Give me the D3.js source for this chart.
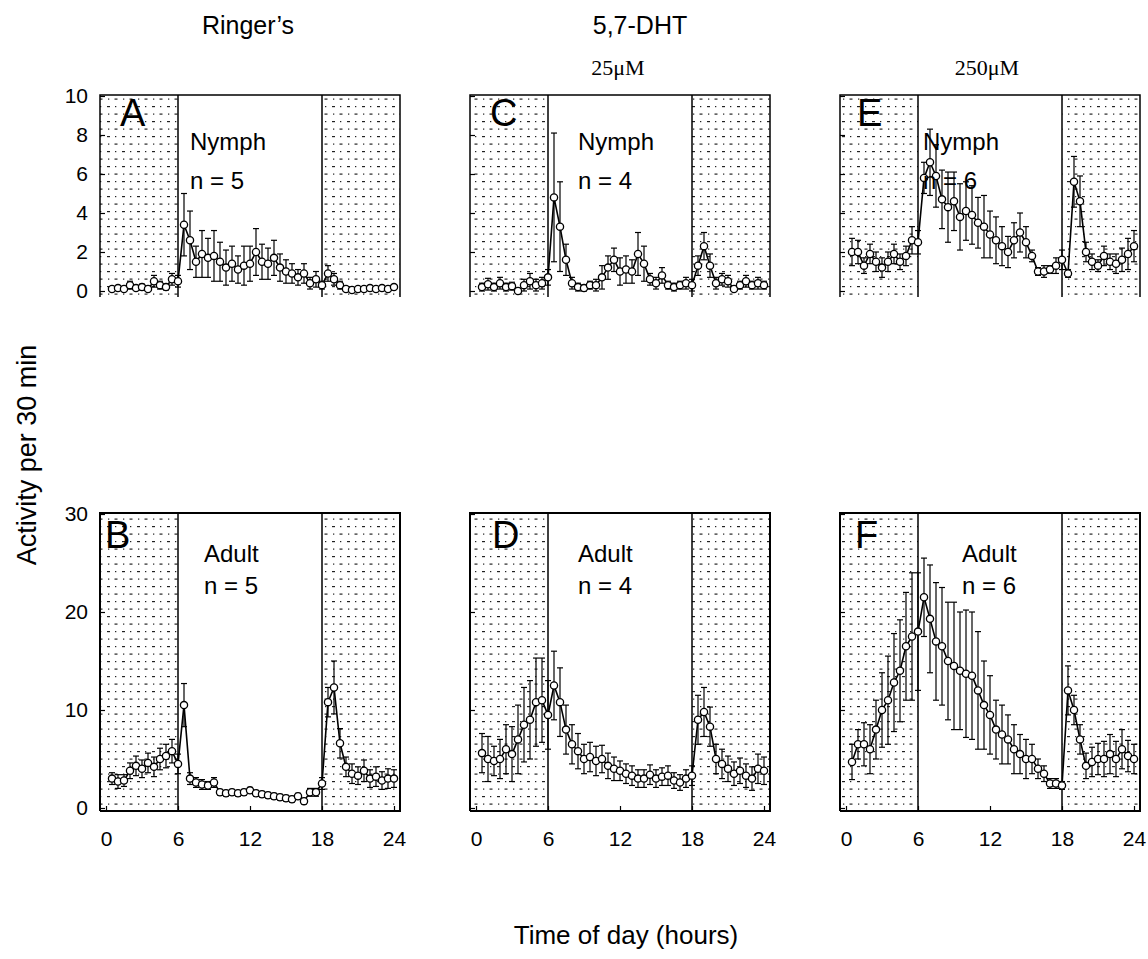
<!DOCTYPE html>
<meta charset="utf-8">
<style>

body {
  margin: 0;
  background: #fff;
}
text {
  font-family: "Liberation Sans", Arial, sans-serif;
  fill: #000;
}
.serif {
  font-family: "Liberation Serif", "Times New Roman", serif;
}
.frame {
  fill: none;
  stroke: #000;
  stroke-width: 1.5px;
}
.mean {
  fill: none;
  stroke: #000;
  stroke-width: 1.6px;
}
.err {
  stroke: #000;
  stroke-width: 1.2px;
}
.pt {
  fill: #fff;
  stroke: #000;
  stroke-width: 1.3px;
}
.axis path {
  display: none;
}
.axis line {
  stroke: #000;
  stroke-width: 1.2px;
}

</style>
<body>
<script src="https://cdn.jsdelivr.net/npm/d3@7"></script>
<script>

// half-hour bins, 0.5 .. 24 h
var hours = d3.range(1, 49).map(function(i) { return i / 2; });

var nymphRinger = [0.1, 0.15, 0.1, 0.3, 0.15, 0.2, 0.1, 0.5, 0.3, 0.2, 0.6, 0.5,
  3.4, 2.6, 1.5, 1.9, 1.7, 1.8, 1.5, 1.2, 1.4, 1.1, 1.3, 1.4,
  2.0, 1.5, 1.4, 1.7, 1.2, 1.0, 0.9, 0.7, 0.9, 0.4, 0.6, 0.3,
  0.9, 0.6, 0.3, 0.1, 0.05, 0.1, 0.1, 0.15, 0.1, 0.15, 0.1, 0.2];
var nymphRingerErr = [0.1, 0.1, 0.1, 0.2, 0.1, 0.15, 0.1, 0.3, 0.2, 0.15, 0.3, 0.3,
  1.6, 1.5, 0.8, 1.2, 1.0, 1.3, 1.0, 0.9, 0.9, 0.7, 1.0, 0.9,
  1.2, 0.9, 0.8, 0.9, 0.7, 0.6, 0.5, 0.4, 0.5, 0.3, 0.4, 0.2,
  0.4, 0.3, 0.2, 0.1, 0.1, 0.1, 0.1, 0.1, 0.1, 0.1, 0.1, 0.1];

var adultRinger = [3.0, 2.7, 2.8, 3.8, 4.3, 4.0, 4.6, 4.2, 5.0, 5.3, 5.8, 4.5,
  10.5, 3.0, 2.6, 2.4, 2.3, 2.6, 1.6, 1.5, 1.6, 1.5, 1.6, 1.8,
  1.5, 1.4, 1.3, 1.2, 1.1, 1.0, 0.9, 1.2, 0.7, 1.6, 1.6, 2.5,
  10.8, 12.3, 6.6, 4.2, 3.5, 3.3, 3.8, 3.0, 3.2, 2.8, 3.0, 3.0];
var adultRingerErr = [0.6, 0.7, 0.6, 0.8, 1.0, 0.9, 1.0, 1.0, 1.1, 1.2, 1.2, 1.0,
  2.2, 0.6, 0.5, 0.5, 0.4, 0.5, 0.3, 0.3, 0.3, 0.3, 0.3, 0.3,
  0.3, 0.3, 0.3, 0.3, 0.3, 0.3, 0.3, 0.3, 0.3, 0.4, 0.4, 0.6,
  1.5, 2.7, 1.5, 1.0, 1.0, 0.9, 1.1, 0.9, 1.0, 0.9, 1.0, 0.9];

var nymph25 = [0.2, 0.35, 0.2, 0.4, 0.2, 0.25, 0.0, 0.3, 0.5, 0.3, 0.4, 0.7,
  4.8, 3.3, 1.6, 0.4, 0.2, 0.15, 0.3, 0.3, 0.7, 1.2, 1.6, 1.0,
  1.1, 1.0, 1.9, 1.4, 0.6, 0.4, 0.8, 0.3, 0.2, 0.3, 0.4, 0.3,
  1.3, 2.3, 1.3, 0.4, 0.6, 0.5, 0.1, 0.3, 0.5, 0.3, 0.4, 0.3];
var nymph25Err = [0.2, 0.3, 0.2, 0.3, 0.2, 0.2, 0.1, 0.3, 0.4, 0.3, 0.3, 0.4,
  3.3, 2.3, 0.8, 0.3, 0.2, 0.15, 0.2, 0.3, 0.6, 0.6, 0.6, 0.7,
  0.7, 0.6, 1.1, 0.9, 0.3, 0.3, 0.4, 0.2, 0.2, 0.2, 0.3, 0.3,
  0.5, 0.7, 0.6, 0.3, 0.3, 0.3, 0.1, 0.2, 0.3, 0.2, 0.3, 0.2];

var adult25 = [5.6, 5.0, 4.8, 5.0, 6.0, 5.5, 7.0, 8.5, 9.0, 10.8, 11.0, 9.5,
  12.5, 10.8, 8.0, 6.5, 5.8, 5.0, 5.2, 4.8, 5.0, 4.3, 4.0, 3.8,
  3.5, 3.3, 3.0, 3.0, 3.4, 3.0, 3.2, 3.3, 2.8, 2.6, 3.0, 3.3,
  9.0, 9.8, 8.3, 5.0, 4.5, 4.0, 3.5, 3.8, 3.3, 3.0, 4.0, 3.8];
var adult25Err = [2.0, 2.3, 1.5, 2.0, 2.5, 2.8, 3.5, 3.8, 4.0, 4.5, 4.3, 3.5,
  3.5, 3.5, 2.5, 2.0, 1.8, 1.5, 1.5, 1.5, 1.4, 1.3, 1.2, 1.0,
  1.0, 1.0, 0.9, 0.9, 1.0, 0.9, 0.9, 1.0, 0.8, 0.8, 0.9, 1.0,
  2.5, 2.5, 2.0, 1.5, 1.5, 1.3, 1.2, 1.3, 1.2, 1.2, 1.5, 1.4];

var nymph250 = [2.0, 2.0, 1.3, 1.9, 1.5, 1.2, 1.5, 1.9, 1.5, 1.8, 2.6, 2.5,
  5.8, 6.6, 5.9, 4.7, 4.3, 4.6, 3.8, 4.1, 3.9, 3.5, 3.3, 2.9,
  2.6, 2.3, 2.0, 2.6, 3.0, 2.5, 1.8, 1.0, 1.0, 1.1, 1.3, 1.6,
  0.9, 5.6, 4.6, 2.0, 1.5, 1.3, 1.8, 1.5, 1.4, 1.6, 1.9, 2.3];
var nymph250Err = [0.7, 0.6, 0.4, 0.5, 0.5, 0.5, 0.5, 0.5, 0.4, 0.5, 0.7, 0.6,
  0.8, 1.7, 1.6, 1.5, 1.8, 1.5, 1.7, 1.5, 1.5, 1.3, 1.6, 1.2,
  1.2, 1.0, 0.8, 0.9, 1.0, 0.8, 0.3, 0.2, 0.3, 0.2, 0.4, 0.5,
  0.2, 1.3, 1.3, 0.5, 0.4, 0.3, 0.5, 0.4, 0.5, 0.6, 0.8, 0.8];

var adult250 = [4.7, 6.5, 6.5, 6.0, 8.0, 10.0, 11.0, 12.8, 14.0, 16.5, 17.5, 18.0,
  21.5, 19.3, 17.0, 16.5, 15.0, 14.5, 14.0, 13.7, 13.5, 12.0, 10.5, 9.5,
  8.0, 7.5, 7.0, 6.0, 5.5, 5.0, 5.0, 4.0, 3.5, 2.5, 2.5, 2.3,
  12.0, 10.0, 7.0, 4.3, 4.7, 5.0, 5.0, 5.5, 5.0, 6.0, 5.3, 5.0];
var adult250Err = [1.8, 1.5, 2.2, 2.5, 3.0, 3.8, 4.5, 5.0, 5.2, 5.5, 6.5, 6.0,
  4.0, 5.5, 6.0, 6.0, 6.0, 6.5, 6.0, 6.5, 6.5, 6.0, 4.5, 4.0,
  3.0, 3.0, 2.5, 2.5, 2.0, 2.0, 1.5, 1.0, 0.8, 0.5, 0.5, 0.4,
  2.5, 1.5, 1.5, 1.3, 1.5, 1.6, 1.8, 2.0, 1.8, 2.0, 1.6, 1.5];

var xTicks = [0, 6, 12, 18, 24];
var nymphTicks = [0, 2, 4, 6, 8, 10];
var adultTicks = [0, 10, 20, 30];

var panels = [
  {letter: "A", stage: "Nymph", n: 5, col: 0, row: 0, mean: nymphRinger, err: nymphRingerErr},
  {letter: "B", stage: "Adult", n: 5, col: 0, row: 1, mean: adultRinger, err: adultRingerErr},
  {letter: "C", stage: "Nymph", n: 4, col: 1, row: 0, mean: nymph25, err: nymph25Err},
  {letter: "D", stage: "Adult", n: 4, col: 1, row: 1, mean: adult25, err: adult25Err},
  {letter: "E", stage: "Nymph", n: 6, col: 2, row: 0, mean: nymph250, err: nymph250Err},
  {letter: "F", stage: "Adult", n: 6, col: 2, row: 1, mean: adult250, err: adult250Err}
];

var width = 1148,
    height = 959;

var colLeft = [100, 470, 840],
    panelW = 300,
    rowTop = [95, 513],
    rowBottom = [297, 811];

// label offsets inside each panel, [top row, bottom row] per column
var letterX = [[20, 5], [20, 22], [17, 15]],
    stageX = [[90, 104], [108, 108], [83, 122]];

var svg = d3.select("body").append("svg")
    .attr("width", width)
    .attr("height", height);

var defs = svg.append("defs");
var pat = defs.append("pattern")
    .attr("id", "stipple")
    .attr("patternUnits", "userSpaceOnUse")
    .attr("width", 15)
    .attr("height", 15);
pat.append("rect").attr("x", 2).attr("y", 1).attr("width", 3).attr("height", 1.2).attr("fill", "#222");
pat.append("rect").attr("x", 10).attr("y", 1).attr("width", 1.3).attr("height", 1.2).attr("fill", "#222");
pat.append("rect").attr("x", 3).attr("y", 8.5).attr("width", 1.3).attr("height", 1.2).attr("fill", "#222");
pat.append("rect").attr("x", 9.5).attr("y", 8.5).attr("width", 3).attr("height", 1.2).attr("fill", "#222");

var line = d3.line();

panels.forEach(function(p) {
  var left = colLeft[p.col],
      top = rowTop[p.row],
      bottom = rowBottom[p.row];

  var x = d3.scaleLinear().domain([-0.5, 24.5]).range([left, left + panelW]);
  var y = p.row === 0
      ? d3.scaleLinear().domain([0, 10]).range([bottom - 6, top + 1])
      : d3.scaleLinear().domain([0, 30]).range([bottom - 3, top + 1]);

  var g = svg.append("g");

  // dark phases
  [[-0.5, 6], [18, 24.5]].forEach(function(r) {
    g.append("rect")
        .attr("x", x(r[0]))
        .attr("y", top)
        .attr("width", x(r[1]) - x(r[0]))
        .attr("height", bottom - top)
        .attr("fill", "url(#stipple)");
    var edge = r[0] === -0.5 ? 6 : 18;
    g.append("line")
        .attr("x1", x(edge)).attr("x2", x(edge))
        .attr("y1", top).attr("y2", bottom)
        .attr("stroke", "#000").attr("stroke-width", 1.5);
  });

  // frame: top panels have no bottom edge
  var sw = p.row === 0 ? 1.5 : 2;
  var frame = p.row === 0
      ? [[left, bottom], [left, top], [left + panelW, top], [left + panelW, bottom]]
      : [[left, bottom], [left, top], [left + panelW, top], [left + panelW, bottom], [left, bottom]];
  g.append("path")
      .attr("class", "frame")
      .attr("d", line(frame))
      .style("stroke-width", sw + "px");

  var ticks = p.row === 0 ? nymphTicks : adultTicks;
  var yAxis = d3.axisLeft(y).tickValues(ticks).tickSizeInner(-5).tickSizeOuter(0).tickPadding(12);
  var ya = g.append("g")
      .attr("class", "axis")
      .attr("transform", "translate(" + left + ",0)")
      .call(yAxis);
  ya.selectAll("text")
      .style("font-size", "21px")
      .style("display", p.col === 0 ? null : "none");

  if (p.row === 1) {
    var xAxis = d3.axisBottom(x).tickValues(xTicks).tickSizeInner(-5).tickSizeOuter(0).tickPadding(20);
    var xa = g.append("g")
        .attr("class", "axis")
        .attr("transform", "translate(0," + bottom + ")")
        .call(xAxis);
    xa.selectAll("text").style("font-size", "21px");
  }

  var pts = hours.map(function(h, i) {
    return {h: h, v: p.mean[i], e: p.err[i]};
  });

  var bars = g.selectAll(".bar")
      .data(pts)
    .enter().append("g");
  bars.append("line")
      .attr("class", "err")
      .attr("x1", function(d) { return x(d.h); })
      .attr("x2", function(d) { return x(d.h); })
      .attr("y1", function(d) { return y(Math.max(0, d.v - d.e)); })
      .attr("y2", function(d) { return y(d.v + d.e); });
  bars.append("line")
      .attr("class", "err")
      .attr("x1", function(d) { return x(d.h) - 3; })
      .attr("x2", function(d) { return x(d.h) + 3; })
      .attr("y1", function(d) { return y(d.v + d.e); })
      .attr("y2", function(d) { return y(d.v + d.e); });
  bars.append("line")
      .attr("class", "err")
      .attr("x1", function(d) { return x(d.h) - 3; })
      .attr("x2", function(d) { return x(d.h) + 3; })
      .attr("y1", function(d) { return y(Math.max(0, d.v - d.e)); })
      .attr("y2", function(d) { return y(Math.max(0, d.v - d.e)); });

  g.append("path")
      .attr("class", "mean")
      .attr("d", line(pts.map(function(d) { return [x(d.h), y(d.v)]; })));

  g.selectAll(".pt")
      .data(pts)
    .enter().append("circle")
      .attr("class", "pt")
      .attr("cx", function(d) { return x(d.h); })
      .attr("cy", function(d) { return y(d.v); })
      .attr("r", 3.6);

  // labels
  g.append("text")
      .attr("x", left + letterX[p.col][p.row])
      .attr("y", top + (p.row === 0 ? 31 : 35))
      .style("font-size", "38px")
      .text(p.letter);
  g.append("text")
      .attr("x", left + stageX[p.col][p.row])
      .attr("y", top + (p.row === 0 ? 55 : 49))
      .style("font-size", "24px")
      .text(p.stage);
  g.append("text")
      .attr("x", left + stageX[p.col][p.row])
      .attr("y", top + (p.row === 0 ? 94 : 81))
      .style("font-size", "24px")
      .text("n = " + p.n);
});

// headings
svg.append("text").attr("x", 248).attr("y", 34).attr("text-anchor", "middle")
    .style("font-size", "25px").text("Ringer\u2019s");
svg.append("text").attr("x", 640).attr("y", 34).attr("text-anchor", "middle")
    .style("font-size", "25px").text("5,7-DHT");
svg.append("text").attr("class", "serif").attr("x", 618).attr("y", 75).attr("text-anchor", "middle")
    .style("font-size", "22px").text("25\u03bcM");
svg.append("text").attr("class", "serif").attr("x", 987).attr("y", 75).attr("text-anchor", "middle")
    .style("font-size", "22px").text("250\u03bcM");

svg.append("text")
    .attr("transform", "translate(36,455)rotate(-90)")
    .attr("text-anchor", "middle")
    .style("font-size", "27px")
    .text("Activity per 30 min");

svg.append("text")
    .attr("x", 626)
    .attr("y", 944)
    .attr("text-anchor", "middle")
    .style("font-size", "26px")
    .text("Time of day (hours)");

</script>
